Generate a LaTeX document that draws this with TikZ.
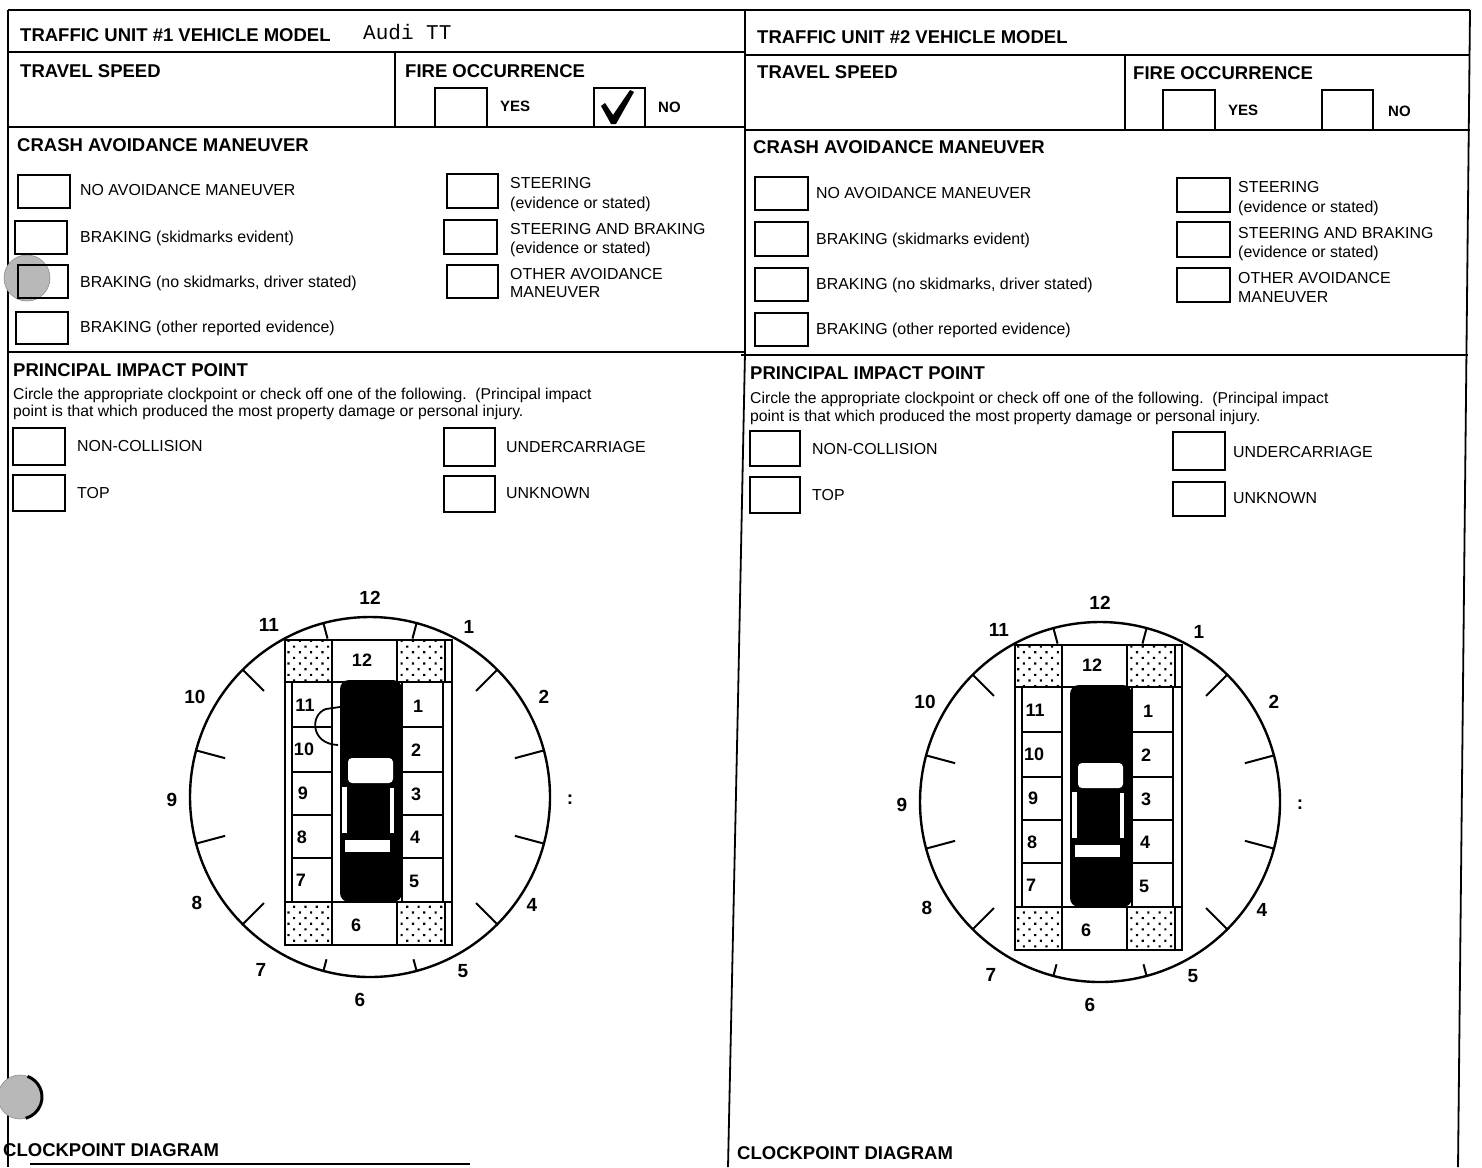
\documentclass[tikz,border=0pt]{standalone}
\usepackage{fontspec}
\setmainfont{Liberation Sans}
\setmonofont{Liberation Mono}
\usetikzlibrary{patterns.meta}

\tikzset{
  frame/.style={line width=1.8pt},
  cbox/.style={line width=2.3pt},
  hdr/.style={anchor=west, inner sep=0pt, font=\fontsize{18.5}{20}\selectfont\bfseries, text height=13pt, text depth=0pt},
  lab/.style={anchor=west, inner sep=0pt, font=\fontsize{15.9}{17}\selectfont, text height=11.4pt, text depth=0pt},
  yn/.style={anchor=west, inner sep=0pt, font=\fontsize{15}{17}\selectfont\bfseries, text height=11pt, text depth=0pt},
  note/.style={anchor=west, inner sep=0pt, font=\fontsize{15.7}{17}\selectfont, text height=11pt, text depth=0pt},
  clk/.style={inner sep=0pt, font=\fontsize{19}{20}\selectfont\bfseries},
  cellno/.style={inner sep=0pt, font=\fontsize{18}{20}\selectfont\bfseries},
  dotcell/.style={draw, line width=2pt, pattern={Dots[distance=8pt,radius=1.5pt,angle=45]}},
  clockline/.style={line width=2.4pt},
  cellline/.style={line width=2pt},
  punch/.style={fill=black!28, draw=black!45, line width=0.6pt},
}

\newcommand\clockface{%
  % circle and half-hour ticks
  \draw[clockline] (0,0) circle[radius=180];
  \foreach \a in {45,75,105,135,225,255,285,315}
    \draw[line width=2pt] ({\a-90}:180) -- ({\a-90}:150);
  \foreach \a in {15,345}
    \draw[line width=2pt] ({\a-90}:180) -- ({\a-90}:164);
  \foreach \a in {165,195}
    \draw[line width=2pt] ({\a-90}:180) -- ({\a-90}:168);
  % corner (dotted) cells
  \draw[dotcell] (-85,-157) rectangle (-38,-115);
  \draw[dotcell] (27,-157) rectangle (75,-115);
  \draw[dotcell] (-85,105) rectangle (-38,148);
  \draw[dotcell] (27,105) rectangle (75,148);
  % car body
  \fill[rounded corners=9pt] (-30,-117) rectangle (32,105);
  \fill[white, rounded corners=4pt] (-22,-39) rectangle (23,-14);
  \fill[white] (-28,-10) rectangle (-23,36);
  \fill[white] (20,-9) rectangle (24,36);
  \fill[white] (-25,43) rectangle (20,55);
  % frame of the vehicle grid
  \draw[clockline] (-85,-157) rectangle (82,148);
  \draw[cellline] (-85,-115) -- (82,-115);
  \draw[cellline] (-85,105) -- (82,105);
  \draw[cellline] (-38,-157) -- (-38,-115);
  \draw[cellline] (27,-157) -- (27,-115);
  \draw[cellline] (75,-157) -- (75,-115);
  \draw[cellline] (-38,105) -- (-38,148);
  \draw[cellline] (27,105) -- (27,148);
  \draw[cellline] (75,105) -- (75,148);
  \draw[cellline] (-78,-115) -- (-78,105);
  \draw[cellline] (-38,-115) -- (-38,105);
  \draw[cellline] (32,-115) -- (32,105);
  \draw[cellline] (73,-115) -- (73,105);
  \foreach \yy in {-70,-25,18,61} {
    \draw[cellline] (-78,\yy) -- (-38,\yy);
    \draw[cellline] (32,\yy) -- (73,\yy);
  }
  % cell numbers
  \node[cellno] (c12) at (-8,-137) {12};
  \node[cellno] (c1) at (48,-91) {1};
  \node[cellno] (c2) at (46,-47) {2};
  \node[cellno] (c3) at (46,-3) {3};
  \node[cellno] (c4) at (45,40) {4};
  \node[cellno] (c5) at (44,84) {5};
  \node[cellno] (c6) at (-14,128) {6};
  \node[cellno] (c7) at (-69,83) {7};
  \node[cellno] (c8) at (-68,40) {8};
  \node[cellno] (c9) at (-67,-4) {9};
  \node[cellno] (c10) at (-66,-48) {10};
  \node[cellno] (c11) at (-65,-92) {11};
  % clock numbers
  \node[clk] (h12) at (0,-199) {12};
  \node[clk] (h1) at (99,-170) {1};
  \node[clk] (h2) at (174,-100) {2};
  \node[clk] (h3) at (200,3) {:};
  \node[clk] (h4) at (162,108) {4};
  \node[clk] (h5) at (93,174) {5};
  \node[clk] (h6) at (-10,203) {6};
  \node[clk] (h7) at (-109,173) {7};
  \node[clk] (h8) at (-173,106) {8};
  \node[clk] (h9) at (-198,3) {9};
  \node[clk] (h10) at (-175,-100) {10};
  \node[clk] (h11) at (-101,-172) {11};
}

\begin{document}
\begin{tikzpicture}[x=1pt,y=-1pt]
\useasboundingbox (0,0) rectangle (1482,1167);

% ---------- form rules ----------
\draw[frame] (8,10) -- (1470,10);
\draw[frame] (8,10) -- (8,1167);
\draw[frame] (745,10) -- (745,352) -- (738,700) -- (728,1167);
\draw[frame] (1470,10) -- (1458,1167);
\draw[frame] (8,52) -- (745,52);
\draw[frame] (8,127) -- (745,127);
\draw[frame] (395,52) -- (395,127);
\draw[frame] (8,352) -- (745,352);
\draw[frame] (745,55) -- (1470,55);
\draw[frame] (745,130) -- (1470,130);
\draw[frame] (1125,55) -- (1125,130);
\draw[frame] (741,355) -- (1468,355);
\draw[frame] (30,1164) -- (470,1164);

% ---------- hole punches (scan) ----------
\fill[punch] (27,278) circle[radius=23];
\fill[punch] (20,1097) circle[radius=22];
\draw[line width=3pt] (20,1097) ++(-70:22) arc[start angle=-70, end angle=75, radius=22];

% ================= LEFT UNIT =================
\node[hdr] (t1) at (20,35) {TRAFFIC UNIT \#1 VEHICLE MODEL};
\node[anchor=west, inner sep=0pt, font=\ttfamily\fontsize{21}{22}\selectfont] (model1) at (363,32) {Audi TT};
\node[hdr] (sp1) at (20,71) {TRAVEL SPEED};
\node[hdr] (fo1) at (405,71) {FIRE OCCURRENCE};
\draw[cbox] (435,88) rectangle (487,127);
\node[yn] (yes1) at (500,106) {YES};
\draw[cbox] (594,88) rectangle (645,127);
\fill (601,106) -- (605,103) -- (613,115) -- (630,90) -- (634,92) -- (616,124) -- (611,124) -- cycle;
\node[yn] (no1) at (658,107) {NO};

\node[hdr] (ca1) at (17,145) {CRASH AVOIDANCE MANEUVER};
\draw[cbox] (18,175) rectangle (70,208);
\node[lab] (ca1a) at (80,190) {NO AVOIDANCE MANEUVER};
\draw[cbox] (15,221) rectangle (67,254);
\node[lab] (ca1b) at (80,237) {BRAKING (skidmarks evident)};
\draw[cbox] (18,265) rectangle (68,298);
\node[lab] (ca1c) at (80,282) {BRAKING (no skidmarks, driver stated)};
\draw[cbox] (16,312) rectangle (68,344);
\node[lab] (ca1d) at (80,327) {BRAKING (other reported evidence)};
\draw[cbox] (447,174) rectangle (498,208);
\node[lab] (ca1e) at (510,183) {STEERING};
\node[lab] (ca1e2) at (510,203) {(evidence or stated)};
\draw[cbox] (444,220) rectangle (497,254);
\node[lab] (ca1f) at (510,229) {STEERING AND BRAKING};
\node[lab] (ca1f2) at (510,248) {(evidence or stated)};
\draw[cbox] (447,265) rectangle (498,298);
\node[lab] (ca1g) at (510,274) {OTHER AVOIDANCE};
\node[lab] (ca1g2) at (510,292) {MANEUVER};

\node[hdr] (pi1) at (13,370) {PRINCIPAL IMPACT POINT};
\node[note] (pi1n) at (13,394) {Circle the appropriate clockpoint or check off one of the following.\ \ (Principal impact};
\node[note] (pi1m) at (13,411) {point is that which produced the most property damage or personal injury.};
\draw[cbox] (13,428) rectangle (65,465);
\node[lab] (pi1a) at (77,446) {NON-COLLISION};
\draw[cbox] (13,475) rectangle (65,511);
\node[lab] (pi1b) at (77,493) {TOP};
\draw[cbox] (444,428) rectangle (495,466);
\node[lab] (pi1c) at (506,447) {UNDERCARRIAGE};
\draw[cbox] (444,476) rectangle (495,512);
\node[lab] (pi1d) at (506,493) {UNKNOWN};

\begin{scope}[shift={(370,797)}, name prefix=L-]
  \clockface
  \draw[line width=1.8pt] (-30,-90) -- (-44,-88) .. controls (-60,-83) and (-60,-53) .. (-32,-52);
\end{scope}
\node[hdr] (cd1) at (3,1150) {CLOCKPOINT DIAGRAM};

% ================= RIGHT UNIT =================
\node[hdr] (t2) at (757,37) {TRAFFIC UNIT \#2 VEHICLE MODEL};
\node[hdr] (sp2) at (757,72) {TRAVEL SPEED};
\node[hdr] (fo2) at (1133,73) {FIRE OCCURRENCE};
\draw[cbox] (1163,90) rectangle (1215,130);
\node[yn] (yes2) at (1228,110) {YES};
\draw[cbox] (1322,90) rectangle (1373,130);
\node[yn] (no2) at (1388,111) {NO};

\node[hdr] (ca2) at (753,147) {CRASH AVOIDANCE MANEUVER};
\draw[cbox] (755,177) rectangle (808,210);
\node[lab] (ca2a) at (816,193) {NO AVOIDANCE MANEUVER};
\draw[cbox] (755,222) rectangle (808,256);
\node[lab] (ca2b) at (816,239) {BRAKING (skidmarks evident)};
\draw[cbox] (755,268) rectangle (808,301);
\node[lab] (ca2c) at (816,284) {BRAKING (no skidmarks, driver stated)};
\draw[cbox] (755,313) rectangle (808,346);
\node[lab] (ca2d) at (816,329) {BRAKING (other reported evidence)};
\draw[cbox] (1177,178) rectangle (1230,212);
\node[lab] (ca2e) at (1238,187) {STEERING};
\node[lab] (ca2e2) at (1238,207) {(evidence or stated)};
\draw[cbox] (1177,222) rectangle (1230,257);
\node[lab] (ca2f) at (1238,233) {STEERING AND BRAKING};
\node[lab] (ca2f2) at (1238,252) {(evidence or stated)};
\draw[cbox] (1177,268) rectangle (1230,302);
\node[lab] (ca2g) at (1238,278) {OTHER AVOIDANCE};
\node[lab] (ca2g2) at (1238,297) {MANEUVER};

\node[hdr] (pi2) at (750,373) {PRINCIPAL IMPACT POINT};
\node[note] (pi2n) at (750,398) {Circle the appropriate clockpoint or check off one of the following.\ \ (Principal impact};
\node[note] (pi2m) at (750,416) {point is that which produced the most property damage or personal injury.};
\draw[cbox] (750,431) rectangle (800,466);
\node[lab] (pi2a) at (812,449) {NON-COLLISION};
\draw[cbox] (750,477) rectangle (800,513);
\node[lab] (pi2b) at (812,495) {TOP};
\draw[cbox] (1173,432) rectangle (1225,470);
\node[lab] (pi2c) at (1233,452) {UNDERCARRIAGE};
\draw[cbox] (1173,482) rectangle (1225,516);
\node[lab] (pi2d) at (1233,498) {UNKNOWN};

\begin{scope}[shift={(1100,802)}, name prefix=R-]
  \clockface
\end{scope}
\node[hdr] (cd2) at (737,1153) {CLOCKPOINT DIAGRAM};
\end{tikzpicture}
\end{document}
